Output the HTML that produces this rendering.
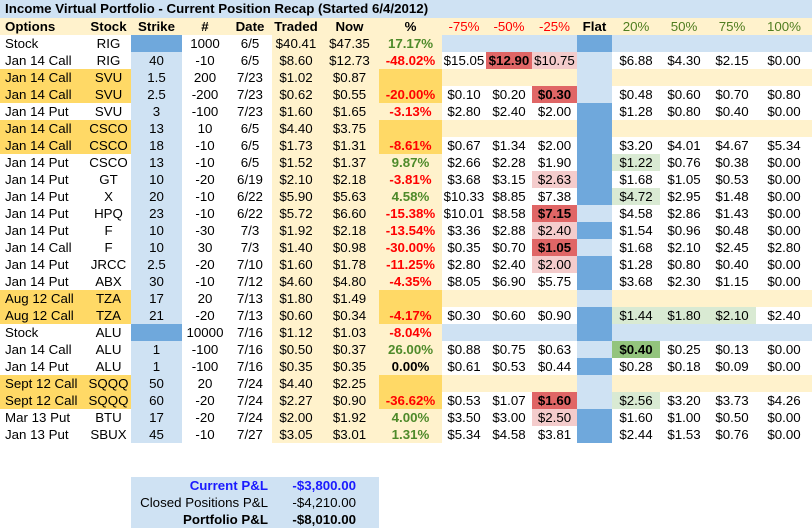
<!DOCTYPE html>
<html><head><meta charset="utf-8">
<style>
html,body{margin:0;padding:0;background:#fff;}
#sheet{position:relative;width:812px;height:528px;overflow:hidden;font-family:"Liberation Sans",Arial,sans-serif;font-size:13.3px;color:#000;}
.c{position:absolute;height:17px;line-height:17px;white-space:nowrap;overflow:visible;text-align:center;box-sizing:border-box;}
.l{text-align:left;padding-left:5px;}
.b{font-weight:bold;}
</style></head>
<body>
<div id="sheet"></div>
<script>
const headers = ["Options","Stock","Strike","#","Date","Traded","Now","%","-75%","-50%","-25%","Flat","20%","50%","75%","100%"];
const optionsCol = ["Stock","Jan 14 Call","Jan 14 Call","Jan 14 Call","Jan 14 Put","Jan 14 Call","Jan 14 Call","Jan 14 Put","Jan 14 Put","Jan 14 Put","Jan 14 Put","Jan 14 Put","Jan 14 Call","Jan 14 Put","Jan 14 Put","Aug 12 Call","Aug 12 Call","Stock","Jan 14 Call","Jan 14 Put","Sept 12 Call","Sept 12 Call","Mar 13 Put","Jan 13 Put"];
const stockCol = ["RIG","RIG","SVU","SVU","SVU","CSCO","CSCO","CSCO","GT","X","HPQ","F","F","JRCC","ABX","TZA","TZA","ALU","ALU","ALU","SQQQ","SQQQ","BTU","SBUX"];
const strikeCol = ["","40","1.5","2.5","3","13","18","13","10","20","23","10","10","2.5","30","17","21","","1","1","50","60","17","45"];
const qtyCol = ["1000","-10","200","-200","-100","10","-10","-10","-20","-10","-10","-30","30","-20","-10","20","-20","10000","-100","-100","20","-20","-20","-10"];
const dateCol = ["6/5","6/5","7/23","7/23","7/23","6/5","6/5","6/5","6/19","6/22","6/22","7/3","7/3","7/10","7/12","7/13","7/13","7/16","7/16","7/16","7/24","7/24","7/24","7/27"];
const tradedCol = ["$40.41","$8.60","$1.02","$0.62","$1.60","$4.40","$1.73","$1.52","$2.10","$5.90","$5.72","$1.92","$1.40","$1.60","$4.60","$1.80","$0.60","$1.12","$0.50","$0.35","$4.40","$2.27","$2.00","$3.05"];
const nowCol = ["$47.35","$12.73","$0.87","$0.55","$1.65","$3.75","$1.31","$1.37","$2.18","$5.63","$6.60","$2.18","$0.98","$1.78","$4.80","$1.49","$0.34","$1.03","$0.37","$0.35","$2.25","$0.90","$1.92","$3.01"];
const pctCol = ["17.17%","-48.02%","","-20.00%","-3.13%","","-8.61%","9.87%","-3.81%","4.58%","-15.38%","-13.54%","-30.00%","-11.25%","-4.35%","","-4.17%","-8.04%","26.00%","0.00%","","-36.62%","4.00%","1.31%"];
const rowKind = ["s","w","o1","o2","w","o1","o2","w","w","w","w","w","w","w","w","o1","o2","s","w","w","o1","o2","w","w"];
const flatKind = ["m","l","l","l","m","m","m","m","m","m","l","m","l","m","m","l","m","m","l","m","l","l","m","m"];
const scen75 = ["","$15.05","","$0.10","$2.80","","$0.67","$2.66","$3.68","$10.33","$10.01","$3.36","$0.35","$2.80","$8.05","","$0.30","","$0.88","$0.61","","$0.53","$3.50","$5.34"];
const scen50 = ["","$12.90","","$0.20","$2.40","","$1.34","$2.28","$3.15","$8.85","$8.58","$2.88","$0.70","$2.40","$6.90","","$0.60","","$0.75","$0.53","","$1.07","$3.00","$4.58"];
const scen25 = ["","$10.75","","$0.30","$2.00","","$2.00","$1.90","$2.63","$7.38","$7.15","$2.40","$1.05","$2.00","$5.75","","$0.90","","$0.63","$0.44","","$1.60","$2.50","$3.81"];
const scenP20 = ["","$6.88","","$0.48","$1.28","","$3.20","$1.22","$1.68","$4.72","$4.58","$1.54","$1.68","$1.28","$3.68","","$1.44","","$0.40","$0.28","","$2.56","$1.60","$2.44"];
const scenP50 = ["","$4.30","","$0.60","$0.80","","$4.01","$0.76","$1.05","$2.95","$2.86","$0.96","$2.10","$0.80","$2.30","","$1.80","","$0.25","$0.18","","$3.20","$1.00","$1.53"];
const scenP75 = ["","$2.15","","$0.70","$0.40","","$4.67","$0.38","$0.53","$1.48","$1.43","$0.48","$2.45","$0.40","$1.15","","$2.10","","$0.13","$0.09","","$3.73","$0.50","$0.76"];
const scenP100 = ["","$0.00","","$0.80","$0.00","","$5.34","$0.00","$0.00","$0.00","$0.00","$0.00","$2.80","$0.00","$0.00","","$2.40","","$0.00","$0.00","","$4.26","$0.00","$0.00"];
// highlight codes per scenario column: D=dark red, P=pink, G=light green, DG=dark green
const hl50 = ["","D","","","","","","","","","","","","","","","","","","","","","",""];
const hl25 = ["","P","","D","","","","","P","","D","P","D","P","","","","","","","","D","P",""];
const hlP20 = ["","","","","","","","G","","G","","","","","","","G","","DG","","","G","",""];
const hlP50 = ["","","","","","","","","","","","","","","","","G","","","","","","",""];
const hlP75 = ["","","","","","","","","","","","","","","","","G","","","","","","",""];
const summaryLabels = ["Current P&L","Closed Positions P&L","Portfolio P&L"];
const summaryValues = ["-$3,800.00","-$4,210.00","-$8,010.00"];

const X = [0,86,131,182,228,272,320,379,442,486,532,577,612,660,708,756,812];
const C = {lb:"#cfe2f3",mb:"#6fa8dc",ly:"#fff2cc",or:"#ffd966",dr:"#e06666",pk:"#f4cccc",lg:"#d9ead3",dg:"#93c47d",red:"#ff0000",grn:"#4e8a2a",hgrn:"#4f7d20"};
const sheet = document.getElementById('sheet');
function cell(x,y,w,text,bg,cls,color,name){
  const d=document.createElement('div');
  d.className='c '+(cls||'');
  d.style.left=x+'px';d.style.top=y+'px';d.style.width=w+'px';
  if(bg)d.style.background=bg;
  if(color)d.style.color=color;
  d.textContent=text;
  
  
  sheet.appendChild(d);
  return d;
}
// title
const t=cell(0,0,812,"Income Virtual Portfolio - Current Position Recap (Started 6/4/2012)",C.lb,'l b',null,'sheet-title');
t.style.height='18px';t.style.lineHeight='18px';
// header
for(let i=0;i<headers.length;i++){
  let col=null,cls='b';
  if(i>=8&&i<=10){col=C.red;cls='';}
  if(i>=12){col=C.hgrn;cls='';}
  if(i===0)cls='l b';
  cell(X[i],18,X[i+1]-X[i],headers[i],C.ly,cls,col,'header-'+headers[i].toLowerCase().replace(/[^a-z0-9]+/g,'-'));
}
const scenVals=[scen75,scen50,scen25,null,scenP20,scenP50,scenP75,scenP100];
const scenHl=[null,hl50,hl25,null,hlP20,hlP50,hlP75,null];
for(let r=0;r<optionsCol.length;r++){
  const y=35+r*17, k=rowKind[r];
  const isO=(k==='o1'||k==='o2');
  cell(X[0],y,X[1]-X[0],optionsCol[r],isO?C.or:null,'l',null,'option-type-cell');
  cell(X[1],y,X[2]-X[1],stockCol[r],isO?C.or:null,'',null,'stock-cell');
  cell(X[2],y,X[3]-X[2],strikeCol[r],k==='s'?C.mb:C.lb,'',null,'strike-cell');
  cell(X[3],y,X[4]-X[3],qtyCol[r],null,'',null,'quantity-cell');
  cell(X[4],y,X[5]-X[4],dateCol[r],null,'',null,'date-cell');
  cell(X[5],y,X[6]-X[5],tradedCol[r],C.ly,'',null,'traded-cell');
  cell(X[6],y,X[7]-X[6],nowCol[r],C.ly,'',null,'now-cell');
  const p=pctCol[r];
  let pc=p.startsWith('-')?C.red:(p==='0.00%'?'#000':C.grn);
  cell(X[7],y,X[8]-X[7],p,isO?C.or:C.ly,'b',pc,'percent-change-cell');
  for(let j=0;j<8;j++){
    const ci=8+j;
    if(j===3){
      cell(X[ci],y,X[ci+1]-X[ci],"",flatKind[r]==='m'?C.mb:C.lb,'',null,'flat-cell');
      continue;
    }
    let bg=null,cls='';
    if(k==='s')bg=C.lb;
    if(k==='o1')bg=C.ly;
    const h=scenHl[j]?scenHl[j][r]:'';
    if(h==='D'){bg=C.dr;cls='b';}
    if(h==='P')bg=C.pk;
    if(h==='G')bg=C.lg;
    if(h==='DG'){bg=C.dg;cls='b';}
    cell(X[ci],y,X[ci+1]-X[ci],scenVals[j][r],bg,cls,null,'scenario-'+headers[ci].replace('%','pct').replace('-','minus-')+'-cell');
  }
}
// summary
for(let i=0;i<summaryLabels.length;i++){
  const y=477+i*17;
  const col=i===0?'#1a1aff':null;
  const cls=i===1?'':'b';
  const a=cell(131,y,141,summaryLabels[i],C.lb,cls,col,'summary-label');
  a.style.textAlign='right';a.style.paddingRight='4px';
  const v=cell(272,y,107,summaryValues[i],C.lb,cls,col,'summary-value');
  v.style.textAlign='right';v.style.paddingRight='23px';
}
</script>
</body></html>
